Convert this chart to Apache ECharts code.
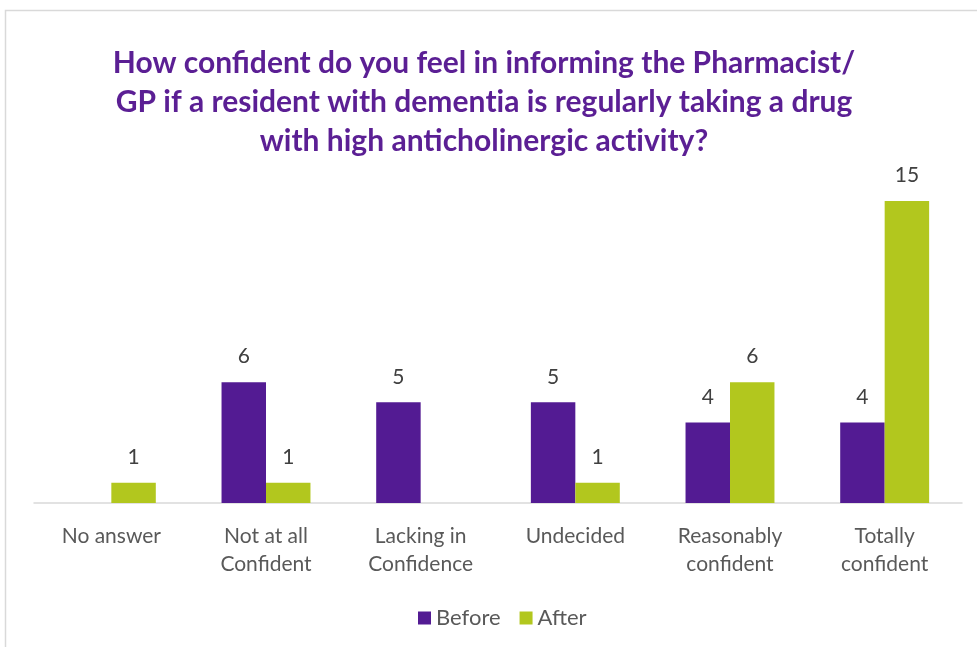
<!DOCTYPE html>
<html>
<head>
<meta charset="utf-8">
<script src="https://cdn.jsdelivr.net/npm/echarts@6/dist/echarts.min.js"></script>
<style>html,body{margin:0;padding:0;background:#fff;}#c{width:977px;height:647px;}</style>
</head>
<body>
<div id="c"></div>
<script>
const categories = ['No answer', 'Not at all\nConfident', 'Lacking in\nConfidence', 'Undecided', 'Reasonably\nconfident', 'Totally\nconfident'];
const beforeValues = [0, 6, 5, 5, 4, 4];
const afterValues = [1, 1, 0, 1, 6, 15];
// {s|t} splits the text into separate runs so that the "ti" ligature is not formed
const titleText = 'How confident do you feel in informing the Pharmacist/\nGP if a resident with demen{s|t}ia is regularly taking a drug\nwith high anticholinergic ac{s|t}ivity?';

const chart = echarts.init(document.getElementById('c'), null, {renderer: 'canvas'});
const FONT = 'Lato';
const TITLE_STYLE = {fontFamily: FONT, fontWeight: 'bold', fontSize: 30, lineHeight: 39, color: '#5B1F94'};
const labelFmt = p => (p.value === 0 ? '' : String(p.value));
chart.setOption({
  animation: false,
  backgroundColor: '#fff',
  graphic: [{
    type: 'rect', shape: {x: 5.5, y: 10.5, width: 1000, height: 700},
    style: {fill: 'none', stroke: '#d9d9d9', lineWidth: 1.5}, silent: true, z: -1
  }],
  title: {
    text: titleText,
    left: 479, top: 39, textAlign: 'center',
    textStyle: Object.assign({}, TITLE_STYLE, {rich: {s: Object.assign({}, TITLE_STYLE)}})
  },
  legend: {
    data: ['Before', 'After'],
    left: 413, top: 602,
    itemWidth: 13, itemHeight: 13, itemGap: 19,
    icon: 'rect',
    textStyle: {fontFamily: FONT, fontSize: 22, color: '#595959', padding: [0, 0, 0, 0]}
  },
  grid: {left: 34, right: 15, top: 201, bottom: 144, containLabel: false},
  xAxis: {
    type: 'category', data: categories,
    axisLine: {lineStyle: {color: '#d9d9d9', width: 1.5}},
    axisTick: {show: false},
    axisLabel: {fontFamily: FONT, fontSize: 21, color: '#595959', lineHeight: 28, margin: 19, interval: 0}
  },
  yAxis: {
    type: 'value', min: 0, max: 15, show: false, splitLine: {show: false}
  },
  series: [
    {name: 'Before', type: 'bar', data: beforeValues, barGap: '0%', barCategoryGap: '42.5%',
     itemStyle: {color: '#531B93'},
     label: {show: true, position: 'top', distance: 15, formatter: labelFmt, fontFamily: FONT, fontSize: 21, color: '#404040'}},
    {name: 'After', type: 'bar', data: afterValues, barGap: '0%', barCategoryGap: '42.5%',
     itemStyle: {color: '#B2C71E'},
     label: {show: true, position: 'top', distance: 15, formatter: labelFmt, fontFamily: FONT, fontSize: 21, color: '#404040'}}
  ]
});
</script>
</body>
</html>
